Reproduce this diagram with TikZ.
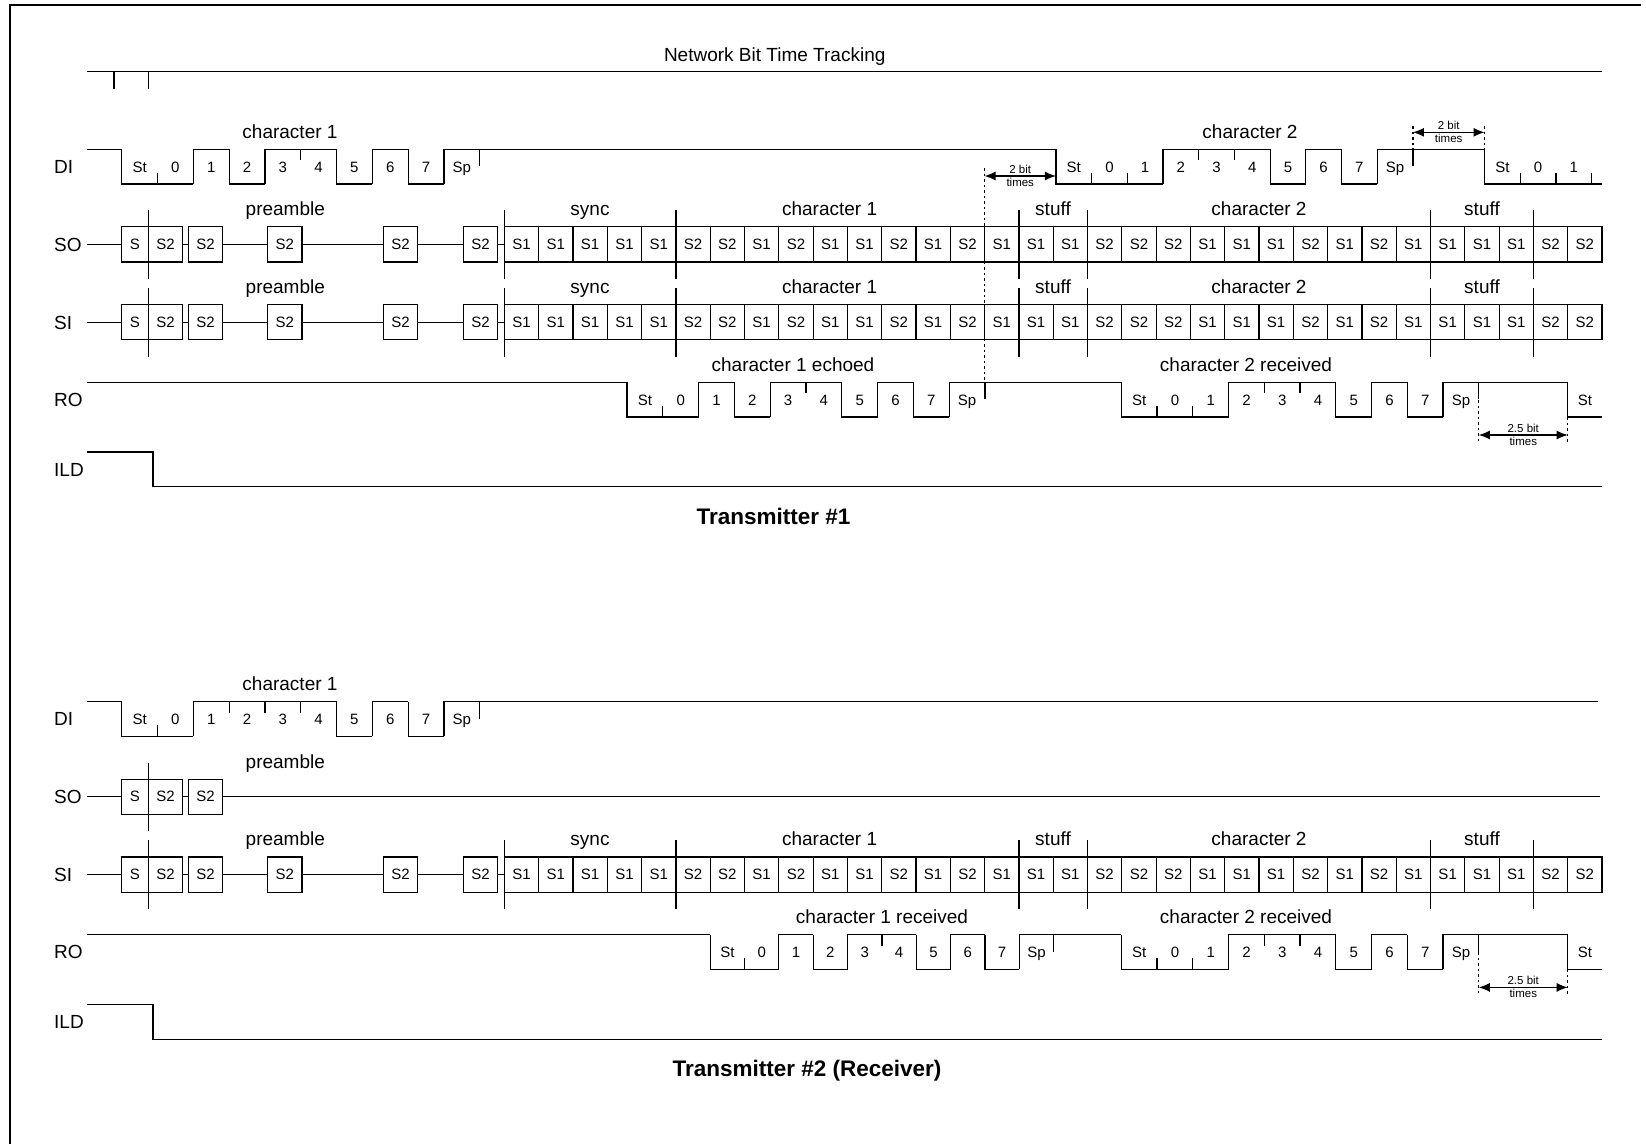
\documentclass[tikz,border=0pt]{standalone}
\usepackage{fontspec}
\setmainfont{Liberation Sans}
\usetikzlibrary{arrows.meta}

\def\bw{35.8}    % bit time on DI / RO
\def\cw{34.3}    % width of one S1/S2 cell
\def\swing{34.7} % high to low

\tikzset{
  sig/.style={line width=1.2pt},
  cell/.style={draw, line width=1.2pt, fill=white, minimum height=35.3pt, minimum width=34.3pt,
    inner sep=0pt, outer sep=0pt, anchor=west, font=\fontsize{15}{15}\selectfont},
  bitlab/.style={anchor=base, inner sep=0pt, font=\fontsize{15}{15}\selectfont},
  lab/.style={anchor=base, inner sep=0pt, font=\fontsize{19}{19}\selectfont},
  rowlab/.style={anchor=base west, inner sep=0pt, font=\fontsize{19}{19}\selectfont},
  ttl/.style={anchor=base, inner sep=0pt, font=\bfseries\fontsize{22.5}{22.5}\selectfont},
  tiny/.style={anchor=base, inner sep=0pt, font=\fontsize{11.5}{11.5}\selectfont},
  dim/.style={line width=1.2pt, {Latex[length=11pt,width=9pt]}-{Latex[length=11pt,width=9pt]}},
  guide/.style={line width=1.2pt, dash pattern=on 2.5pt off 3pt},
}

% one character on a line: name, start x, bit time, y of high, list of level/label
\newcommand{\wave}[5]{%
  \xdef\prevlev{1}%
  \foreach \lev/\lab [count=\i from 0] in {#5} {%
    \pgfmathsetmacro\xa{#2+\i*#3}%
    \pgfmathsetmacro\xb{#2+(\i+1)*#3}%
    \pgfmathsetmacro\ya{#4+(1-\lev)*\swing}%
    \pgfmathsetmacro\yb{#4+(1-\prevlev)*\swing}%
    \ifnum\lev=\prevlev\relax
      \pgfmathsetmacro\yt{\ya+(2*\lev-1)*11}%
      \draw[sig] (\xa,\ya) -- (\xb,\ya);
      \draw[sig] (\xa,\ya) -- (\xa,\yt);
    \else
      \draw[sig] (\xa,\yb) -- (\xa,\ya) -- (\xb,\ya);
    \fi
    \node[bitlab] (#1\i) at ({(\xa+\xb)/2},{#4+\swing/2+5.5}) {\lab};
    \xdef\prevlev{\lev}%
  }%
}

% the S1/S2 line with preamble, sync, characters and stuff bits
\newcommand{\srow}[2]{%
  \draw[sig] (87.3,#2) -- (504.4,#2);
  \node[cell, minimum width=26.6pt] (#1s) at (121.7,#2) {S};
  \foreach \x [count=\k] in {148.3,188.3,267.7,383.3,463.3}
    \node[cell] (#1p\k) at (\x,#2) {S2};
  \foreach \lab [count=\i from 0] in {S1,S1,S1,S1,S1,
      S2,S2,S1,S2,S1,S1,S2,S1,S2,S1, S1,S1,
      S2,S2,S2,S1,S1,S1,S2,S1,S2,S1, S1,S1,S1, S2,S2}
    \node[cell] (#1c\i) at ({504.4+\i*\cw},#2) {\lab};
  \foreach \x in {148.3,504.4,675.9,1018.9,1087.5,1430.5,1533.4}
    \draw[sig] (\x,#2-34.3) -- (\x,#2+34.3);
  \node[lab] (#1pre) at (285.3,#2-28.7) {preamble};
  \node[lab] (#1sync) at (590,#2-28.7) {sync};
  \node[lab] (#1chA) at (829.6,#2-28.7) {character 1};
  \node[lab] (#1stA) at (1053,#2-28.7) {stuff};
  \node[lab] (#1chB) at (1259,#2-28.7) {character 2};
  \node[lab] (#1stB) at (1482,#2-28.7) {stuff};
}

% n bit times arrow: name, left x, right x, y, upper text
\newcommand{\bittimes}[5]{%
  \draw[dim] (#2,#4) -- (#3,#4);
  \node[tiny] (#1a) at ({(#2+#3)/2},#4-3) {#5};
  \node[tiny] (#1b) at ({(#2+#3)/2},#4+10.5) {times};
}

\begin{document}
\begin{tikzpicture}[x=1pt,y=-1pt]
  \useasboundingbox (0,0) rectangle (1646,1144);
  \draw[sig] (10,1144) -- (10,5) -- (1641,5);

  % ---------------- Transmitter #1 ----------------
  \node[lab] (track) at (774.7,61) {Network Bit Time Tracking};
  \draw[sig] (87.3,71.7) -- (1602,71.7);
  \foreach \x in {114,148.3}
    \draw[sig] (\x,71.7) -- (\x,89.3);

  % DI
  \node[rowlab] (diT) at (54,173.3) {DI};
  \draw[sig] (87.3,149.3) -- (121.7,149.3);
  \wave{diTa}{121.7}{\bw}{149.3}{0/St,0/0,1/1,0/2,1/3,1/4,0/5,1/6,0/7,1/Sp}
  \draw[sig] (479.7,149.3) -- (1055.9,149.3);
  \draw[sig] (479.7,149.3) -- (479.7,166.3);
  \wave{diTb}{1055.9}{35.7}{149.3}{0/St,0/0,0/1,1/2,1/3,1/4,0/5,1/6,0/7,1/Sp}
  \draw[sig] (1412.9,149.3) -- (1484.5,149.3);
  \draw[sig] (1412.9,149.3) -- (1412.9,166.3);
  \wave{diTc}{1484.5}{35.7}{149.3}{0/St,0/0,0/1}
  \draw[sig] (1591.6,184) -- (1602,184);
  \draw[sig] (1591.6,184) -- (1591.6,173);
  \node[lab] (diTchA) at (290,138.3) {character 1};
  \node[lab] (diTchB) at (1250,138.3) {character 2};

  % bit time marks
  \draw[guide] (984.6,168) -- (984.6,382.3);
  \bittimes{twoA}{984.6}{1055.9}{176}{2 bit}
  \draw[guide] (1412.9,126) -- (1412.9,149.3);
  \draw[guide] (1484.5,126) -- (1484.5,149.3);
  \bittimes{twoB}{1412.9}{1484.5}{132.3}{2 bit}

  % SO and SI
  \node[rowlab] (soT) at (54,251.2) {SO};
  \srow{soT}{244.4}
  \node[rowlab] (siT) at (54,329) {SI};
  \srow{siT}{322.2}

  % RO
  \node[rowlab] (roT) at (54,406.3) {RO};
  \draw[sig] (87.3,382.3) -- (627,382.3);
  \wave{roTa}{627}{\bw}{382.3}{0/St,0/0,1/1,0/2,1/3,1/4,0/5,1/6,0/7,1/Sp}
  \draw[sig] (985,382.3) -- (1121.3,382.3);
  \draw[sig] (985,382.3) -- (985,399.3);
  \wave{roTb}{1121.3}{35.75}{382.3}{0/St,0/0,0/1,1/2,1/3,1/4,0/5,1/6,0/7,1/Sp}
  \draw[sig] (1478.8,382.3) -- (1567.7,382.3);
  \draw[sig] (1478.8,382.3) -- (1478.8,399.3);
  \wave{roTc}{1567.7}{34.3}{382.3}{0/St}
  \node[lab] (roTchA) at (793,371) {character 1 echoed};
  \node[lab] (roTchB) at (1246,371) {character 2 received};
  \draw[guide] (1478.8,400) -- (1478.8,443.5);
  \draw[guide] (1567.7,417) -- (1567.7,443.5);
  \bittimes{halfT}{1478.8}{1567.7}{435}{2.5 bit}

  % ILD
  \node[rowlab] (ildT) at (54,476.1) {ILD};
  \draw[sig] (87.3,452) -- (153,452) -- (153,486.7) -- (1602,486.7);

  \node[ttl] (txA) at (773.6,524.5) {Transmitter \#1};

  % ---------------- Transmitter #2 (Receiver) ----------------
  \begin{scope}[shift={(0,552.4)}]
    % DI
    \node[rowlab] (diB) at (54,173.3) {DI};
    \draw[sig] (87.3,149.3) -- (121.7,149.3);
    \wave{diBa}{121.7}{\bw}{149.3}{0/St,0/0,1/1,1/2,1/3,1/4,0/5,1/6,0/7,1/Sp}
    \draw[sig] (479.7,149.3) -- (1598,149.3);
    \draw[sig] (479.7,149.3) -- (479.7,166.3);
    \node[lab] (diBchA) at (290,138.3) {character 1};

    % SO
    \node[rowlab] (soB) at (54,251.2) {SO};
    \draw[sig] (87.3,244.4) -- (1600,244.4);
    \node[cell, minimum width=26.6pt] (soBs) at (121.7,244.4) {S};
    \node[cell] (soBp1) at (148.3,244.4) {S2};
    \node[cell] (soBp2) at (188.3,244.4) {S2};
    \draw[sig] (148.3,210.1) -- (148.3,278.7);
    \node[lab] (soBpre) at (285.3,215.7) {preamble};

    % SI
    \node[rowlab] (siB) at (54,329) {SI};
    \srow{siB}{322.2}

    % RO
    \node[rowlab] (roB) at (54,406.3) {RO};
    \draw[sig] (87.3,382.3) -- (710.2,382.3);
    \wave{roBa}{710.2}{34.34}{382.3}{0/St,0/0,1/1,0/2,1/3,1/4,0/5,1/6,0/7,1/Sp}
    \draw[sig] (1053.6,382.3) -- (1121.3,382.3);
    \draw[sig] (1053.6,382.3) -- (1053.6,399.3);
    \wave{roBb}{1121.3}{35.75}{382.3}{0/St,0/0,0/1,1/2,1/3,1/4,0/5,1/6,0/7,1/Sp}
    \draw[sig] (1478.8,382.3) -- (1567.7,382.3);
    \draw[sig] (1478.8,382.3) -- (1478.8,399.3);
    \wave{roBc}{1567.7}{34.3}{382.3}{0/St}
    \node[lab] (roBchA) at (882,371) {character 1 received};
    \node[lab] (roBchB) at (1246,371) {character 2 received};
    \draw[guide] (1478.8,400) -- (1478.8,443.5);
    \draw[guide] (1567.7,417) -- (1567.7,443.5);
    \bittimes{halfB}{1478.8}{1567.7}{435}{2.5 bit}

    % ILD
    \node[rowlab] (ildB) at (54,476.1) {ILD};
    \draw[sig] (87.3,452) -- (153,452) -- (153,486.7) -- (1602,486.7);

    \node[ttl] (txB) at (807,524.5) {Transmitter \#2 (Receiver)};
  \end{scope}
\end{tikzpicture}
\end{document}
